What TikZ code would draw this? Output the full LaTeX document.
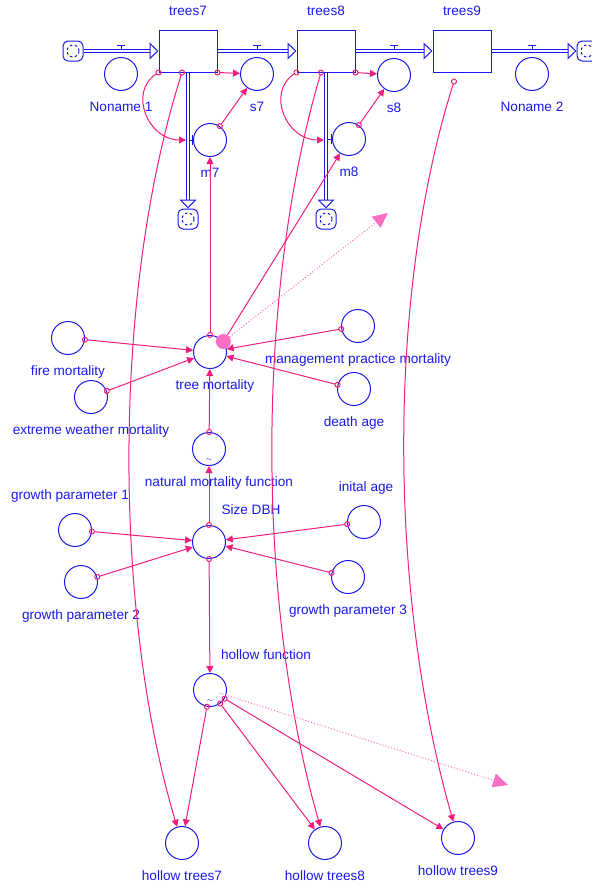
\documentclass[tikz,border=0pt]{standalone}
\usepackage{fontspec}
\setmainfont{Liberation Sans}
\usetikzlibrary{arrows.meta,calc}
\definecolor{sdblue}{RGB}{25,25,235}
\definecolor{linkpink}{RGB}{240,30,125}
\definecolor{ghostpink}{RGB}{250,110,195}

\begin{document}
\begin{tikzpicture}[x=1pt, y=-1pt,
    stock/.style={draw=sdblue, line width=1pt, minimum width=58pt, minimum height=42pt, inner sep=0pt},
    aux/.style={draw=sdblue, line width=1pt, circle, minimum size=33pt, inner sep=0pt},
    graphfn/.style={aux, path picture={\node[text=sdblue, font=\scriptsize, inner sep=0pt] at ([yshift=5pt]path picture bounding box.south) {$\sim$};}},
    sink/.style={draw=sdblue, line width=1pt, rounded corners=5pt, minimum size=20pt, inner sep=0pt,
      path picture={\draw[sdblue, line width=1pt, dash pattern=on 2.5pt off 2.5pt] (path picture bounding box.center) circle (6pt);}},
    lbl/.style={text=sdblue, font=\fontsize{13.6}{15}\selectfont, inner sep=0pt, text height=10pt, text depth=3pt},
    every label/.style={lbl},
    label distance=10.5pt,
    pipe/.style={draw=sdblue, line width=1pt, double=white, double distance=2.5pt},
    pipehead/.style={draw=sdblue, line width=1pt, -{Triangle[length=9pt, width=17pt, fill=white]}},
    valve/.style={draw=sdblue, line width=1pt},
    link/.style={draw=linkpink, line width=1pt, {Circle[open, length=6pt, width=6pt]}-{Triangle[length=7pt, width=7pt]}, shorten <=-3pt},
    ghost/.style={draw=ghostpink, line width=1pt, dotted, -{Triangle[length=15pt, width=14pt]}},
    blob/.style={circle, fill=ghostpink, minimum size=15pt, inner sep=0pt}
  ]
  \useasboundingbox (0,0) rectangle (592,884);

  \node[stock, label=above:trees7] (trees7) at (188,51) {};
  \node[stock, label=above:trees8] (trees8) at (326,51) {};
  \node[stock, label=above:trees9] (trees9) at (462,51) {};
  \node[sink] (srcL) at (73,51) {};
  \node[sink] (sink7) at (188,219) {};
  \node[sink] (sink8) at (326,219) {};
  \node[sink] (sinkR) at (587,51) {};
  \node[aux, label=below:Noname 1] (noname1) at (121,74) {};
  \node[aux, label=below:s7] (s7) at (257,74) {};
  \node[aux, label=below:s8] (s8) at (394,75) {};
  \node[aux, label=below:Noname 2] (noname2) at (532,74) {};
  \node[aux, label=below:m7] (m7) at (210,140) {};
  \node[aux, label=below:m8] (m8) at (349,139) {};

  \node[aux, label=below:fire mortality] (firemort) at (68,338) {};
  \node[aux, label=below:extreme weather mortality] (extweather) at (91,397) {};
  \node[aux, label={[xshift=5pt]below:tree mortality}] (treemort) at (210,352) {};
  \node[aux, label=below:management practice mortality] (mgmtmort) at (358,326) {};
  \node[aux, label=below:death age] (deathage) at (354,389) {};
  \node[graphfn, label={[xshift=10pt]below:natural mortality function}] (natmortfn) at (209,449) {};
  \node[aux, label={[xshift=42pt, yshift=-3.5pt]above:Size DBH}] (sizedbh) at (209,542) {};
  \node[aux, label={[xshift=-5pt]above:growth parameter 1}] (growth1) at (75,530) {};
  \node[aux, label=below:growth parameter 2] (growth2) at (81,582) {};
  \node[aux, label={[xshift=2pt]above:inital age}] (initage) at (364,522) {};
  \node[aux, label=below:growth parameter 3] (growth3) at (348,577) {};
  \node[graphfn, label={[xshift=56pt]above:hollow function}] (hollowfn) at (210,690) {};
  \node[aux, label=below:hollow trees7] (hollow7) at (182,843) {};
  \node[aux, label=below:hollow trees8] (hollow8) at (325,843) {};
  \node[aux, label=below:hollow trees9] (hollow9) at (458,838) {};
  \node[blob] (blob) at (treemort.38) {};
  \coordinate (loose1) at (388,213);
  \coordinate (loose2) at (508,785);
  \coordinate (v7) at (186,140);
  \coordinate (v8) at (324,140);

  \draw[pipe] (srcL.east) -- ([xshift=-9pt]trees7.west);
  \draw[pipehead] ([xshift=-9pt]trees7.west) -- (trees7.west);
  \draw[pipe] (trees7.east) -- ([xshift=-9pt]trees8.west);
  \draw[pipehead] ([xshift=-9pt]trees8.west) -- (trees8.west);
  \draw[pipe] (trees8.east) -- ([xshift=-9pt]trees9.west);
  \draw[pipehead] ([xshift=-9pt]trees9.west) -- (trees9.west);
  \draw[pipe] (trees9.east) -- ([xshift=-9pt]sinkR.west);
  \draw[pipehead] ([xshift=-9pt]sinkR.west) -- (sinkR.west);
  \draw[pipe] (trees7.south) -- ([yshift=9pt]sink7.north);
  \draw[pipehead] ([yshift=9pt]sink7.north) -- (sink7.north);
  \draw[pipe] (trees8.south) -- ([yshift=9pt]sink8.north);
  \draw[pipehead] ([yshift=9pt]sink8.north) -- (sink8.north);

  \draw[valve] ([xshift=-4pt, yshift=12pt]noname1.north) -- ++(8,0) ([yshift=12pt]noname1.north) -- ++(0,4);
  \draw[valve] ([xshift=-4pt, yshift=12pt]s7.north) -- ++(8,0) ([yshift=12pt]s7.north) -- ++(0,4);
  \draw[valve] ([xshift=-4pt, yshift=13pt]s8.north) -- ++(8,0) ([yshift=13pt]s8.north) -- ++(0,4);
  \draw[valve] ([xshift=-4pt, yshift=12pt]noname2.north) -- ++(8,0) ([yshift=12pt]noname2.north) -- ++(0,4);
  \draw[valve] ([xshift=-1pt, yshift=-5pt]m7.west) -- ++(0,-10) ([xshift=-1pt]m7.west) -- ++(-3,0);
  \draw[valve] ([xshift=-1pt, yshift=-5pt]m8.west) -- ++(0,-10) ([xshift=-1pt]m8.west) -- ++(-3,0);

  \draw[link] (trees7.south west) .. controls (128,92) and (148,140) .. (v7);
  \draw[link] (trees8.south west) .. controls (266,92) and (286,140) .. (v8);
  \draw[link] (trees7.south east) -- (s7);
  \draw[link] (trees8.south east) -- (s8);
  \draw[link] (m7) -- (s7);
  \draw[link] (m8) -- (s8);
  \draw[link] (treemort) -- (m7);
  \draw[link, -{Triangle[length=7pt, width=7pt]}, shorten <=0pt] (blob) -- (m8);
  \draw[link] ([xshift=-6pt]trees7.south) .. controls (110,300) and (115,620) .. (hollow7);
  \draw[link] ([xshift=-5pt]trees8.south) .. controls (254,300) and (258,610) .. (hollow8);
  \draw[link] ([xshift=-8pt, yshift=-9pt]trees9.south) .. controls (385,300) and (390,600) .. (hollow9);

  \draw[link] (firemort) -- (treemort);
  \draw[link] (extweather) -- (treemort);
  \draw[link] (mgmtmort) -- (treemort);
  \draw[link] (deathage) -- (treemort);
  \draw[link] (natmortfn) -- (treemort);
  \draw[link] (sizedbh) -- (natmortfn);
  \draw[link] (growth1) -- (sizedbh);
  \draw[link] (growth2) -- (sizedbh);
  \draw[link] (initage) -- (sizedbh);
  \draw[link] (growth3) -- (sizedbh);
  \draw[link] (sizedbh) -- (hollowfn);
  \draw[link] (hollowfn) -- (hollow7);
  \draw[link] (hollowfn) -- (hollow8);
  \draw[link] (hollowfn) -- (hollow9);
  \draw[ghost] (blob) -- (loose1);
  \draw[ghost, shorten <=10pt] (hollowfn.center) -- (loose2);
\end{tikzpicture}
\end{document}
